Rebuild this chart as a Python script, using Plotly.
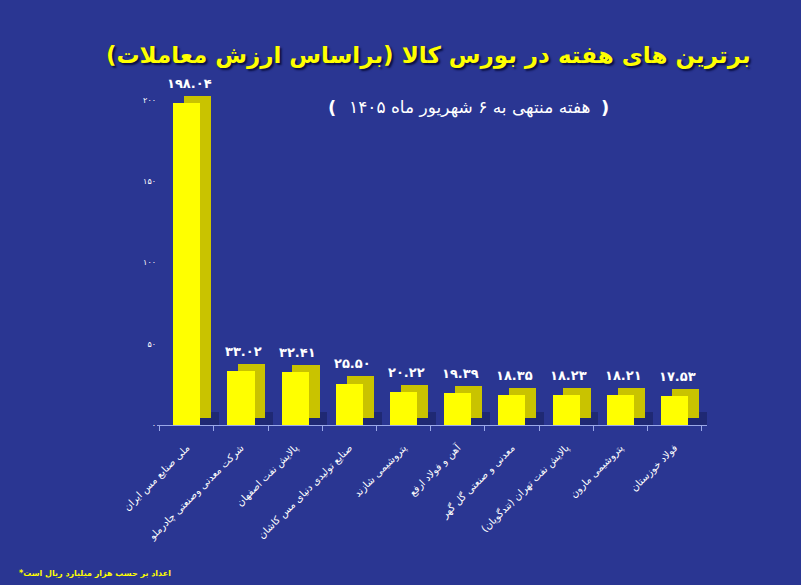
import plotly.graph_objects as go

categories = [
    "ملی صنایع مس ایران",
    "شرکت معدنی وصنعتی چادرملو",
    "پالایش نفت اصفهان",
    "صنایع تولیدی دنیای مس کاشان",
    "پتروشیمی شازند",
    "آهن و فولاد ارفع",
    "معدنی و صنعتی گل گهر",
    "پالایش نفت تهران (تندگویان)",
    "پتروشیمی مارون",
    "فولاد خوزستان",
]
values = [198.04, 33.02, 32.41, 25.50, 20.22, 19.39, 18.35, 18.23, 18.21, 17.53]
y_ticks = [0, 50, 100, 150, 200]

title_text = "برترین های هفته در بورس کالا (براساس ارزش معاملات)"
subtitle_text = "هفته منتهی به ۶ شهریور ماه ۱۴۰۵"
footer_text = "*اعداد بر حسب هزار میلیارد ریال است"

FA = str.maketrans("0123456789", "۰۱۲۳۴۵۶۷۸۹")


def fa(s):
    return str(s).translate(FA)


value_labels = [fa(f"{v:.2f}") for v in values]
y_tick_text = [fa(t) for t in y_ticks]
idx = list(range(len(categories)))

DX = 0.2   # depth offset (category units)
DY = 4.5   # depth offset (value units)
BW = 0.5
FONT = "DejaVu Sans"
BG = "#2a3692"

fig = go.Figure()

# soft shadow at the base
fig.add_trace(go.Bar(
    x=[i + DX + 0.12 for i in idx], y=[8] * len(idx), width=0.55,
    marker=dict(color="rgba(12,16,60,0.35)", line=dict(width=0)),
    hoverinfo="skip", showlegend=False,
))
# side / top face
fig.add_trace(go.Bar(
    x=[i + DX for i in idx], y=values, base=DY, width=BW,
    marker=dict(color="#c9c300", line=dict(width=0)),
    hoverinfo="skip", showlegend=False,
))
# front face
fig.add_trace(go.Bar(
    x=idx, y=values, width=BW,
    marker=dict(color="#ffff00", line=dict(width=0)),
    showlegend=False,
))

annotations = [
    dict(text="<b>" + lab + "</b>", x=i + 0.05, y=v + DY, xref="x", yref="y",
         xanchor="center", yanchor="bottom", yshift=3, showarrow=False,
         font=dict(family=FONT, size=13, color="white"))
    for i, v, lab in zip(idx, values, value_labels)
]
annotations += [
    dict(text="<b>" + title_text + "</b>", x=0.493, y=1.104,
         xref="paper", yref="paper", xanchor="center", yanchor="middle",
         showarrow=False,
         font=dict(family=FONT, size=23, color="#ffff00",
                   shadow="2px 2px 2px #0a0f40")),
    dict(text=subtitle_text, x=0.569, y=0.949, xref="paper", yref="paper",
         xanchor="center", yanchor="middle",
         showarrow=False, font=dict(family=FONT, size=17, color="white")),
    dict(text="<b>(</b>", x=0.318, y=0.949, xref="paper", yref="paper",
         xanchor="center", yanchor="middle",
         showarrow=False, font=dict(family=FONT, size=18, color="white")),
    dict(text="<b>)</b>", x=0.815, y=0.949, xref="paper", yref="paper",
         xanchor="center", yanchor="middle",
         showarrow=False, font=dict(family=FONT, size=18, color="white")),
    dict(text="<b>" + footer_text + "</b>", x=-0.255, y=-0.442,
         xref="paper", yref="paper", xanchor="left", yanchor="middle",
         showarrow=False,
         font=dict(family=FONT, size=8, color="#ffff00")),
]

fig.update_layout(
    width=801, height=585,
    margin=dict(l=157, r=94, t=90, b=160),
    paper_bgcolor=BG, plot_bgcolor=BG,
    barmode="overlay", bargap=0,
    font=dict(family=FONT, color="white"),
    xaxis=dict(
        range=[-0.55, 9.6], tickmode="array", tickvals=idx, ticktext=categories,
        tickangle=-45, tickfont=dict(family=FONT, size=10, color="white"),
        ticklabelstandoff=12,
        showgrid=False, zeroline=False, showline=True, linecolor="#9aa8e8",
        linewidth=1, ticks="",
        minor=dict(tickmode="linear", tick0=-0.5, dtick=1, ticks="outside",
                   ticklen=5, tickcolor="#9aa8e8", showgrid=False),
    ),
    yaxis=dict(
        range=[0, 206], tickmode="array", tickvals=y_ticks, ticktext=y_tick_text,
        tickfont=dict(family=FONT, size=8, color="white"),
        showgrid=False, zeroline=False, showline=False, ticks="",
    ),
    annotations=annotations,
)

fig.write_html(
    "out.html",
    config={"displayModeBar": False},
    post_script="document.body.style.margin='0';"
                "document.body.style.background='" + BG + "';"
                "document.body.style.overflow='hidden';",
)
